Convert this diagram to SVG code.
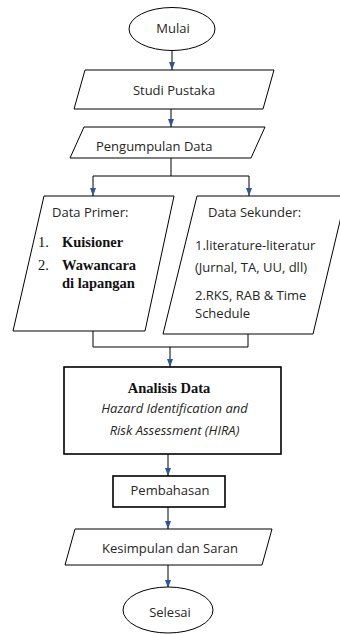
<svg xmlns="http://www.w3.org/2000/svg" width="340" height="634" viewBox="0 0 340 634">
<defs>
<style>
.sh{fill:#fff;stroke:#000;stroke-width:1}
.thick{fill:#fff;stroke:#000;stroke-width:1.6}
.c{fill:none;stroke:#000;stroke-width:1}
.sans{font-family:"Open Sans","Noto Sans",sans-serif;font-size:13px;fill:#262626}
.ser{font-family:"Liberation Serif","Times New Roman",serif;font-size:14.5px;fill:#111}
.b{font-weight:bold}
.it{font-style:italic}
.m{text-anchor:middle}
</style>
<marker id="ah" markerWidth="6" markerHeight="8" refX="3" refY="8" orient="0" markerUnits="userSpaceOnUse">
<path d="M0,0 L6,0 L3,8 Z" fill="#2f5597"/>
</marker>
</defs>
<rect width="340" height="634" fill="#fff"/>
<g id="connectors">
<path class="c" d="M172,51 V70" marker-end="url(#ah)"/>
<path class="c" d="M171,109 V127" marker-end="url(#ah)"/>
<path class="c" d="M171,158 V176 M93,176 H249"/>
<path class="c" d="M93,176 V196" marker-end="url(#ah)"/>
<path class="c" d="M249,176 V196" marker-end="url(#ah)"/>
<path class="c" d="M93,331 V347 H248 V334"/>
<path class="c" d="M170,347 V367" marker-end="url(#ah)"/>
<path class="c" d="M168,454 V476" marker-end="url(#ah)"/>
<path class="c" d="M168,507 V529" marker-end="url(#ah)"/>
<path class="c" d="M168,565 V588" marker-end="url(#ah)"/>
</g>
<g id="mulai">
<ellipse class="sh" cx="172" cy="29" rx="43" ry="21.5"/>
<text class="sans m" x="173" y="33">Mulai</text>
</g>
<g id="studi-pustaka">
<polygon class="sh" points="85,70 274,70 263,109 74,109"/>
<text class="sans m" x="174" y="95">Studi Pustaka</text>
</g>
<g id="pengumpulan-data">
<polygon class="sh" points="84,127 265,127 251,158 70,158"/>
<text class="sans" x="96" y="151">Pengumpulan Data</text>
</g>
<g id="data-primer">
<polygon class="sh" points="44,196 174,196 145,331 13,331"/>
<text class="sans" x="52" y="217">Data Primer:</text>
<text class="ser" x="38" y="247">1.</text>
<text class="ser b" x="62" y="247">Kuisioner</text>
<text class="ser" x="38" y="270">2.</text>
<text class="ser b" x="62" y="270">Wawancara</text>
<text class="ser b" x="62" y="288">di lapangan</text>
</g>
<g id="data-sekunder">
<polygon class="sh" points="197,196 346,196 313,334 163,334"/>
<text class="sans" x="208" y="217">Data Sekunder:</text>
<text class="sans" x="195" y="250">1.literature-literatur</text>
<text class="sans" x="195" y="272">(Jurnal, TA, UU, dll)</text>
<text class="sans" x="195" y="300">2.RKS, RAB &amp; Time</text>
<text class="sans" x="195" y="318">Schedule</text>
</g>
<g id="analisis-data">
<rect class="thick" x="64" y="367" width="217" height="87"/>
<text class="ser b m" x="169" y="393">Analisis Data</text>
<text class="sans it m" x="174.5" y="413">Hazard Identification and</text>
<text class="sans it m" x="174.5" y="435">Risk Assessment (HIRA)</text>
</g>
<g id="pembahasan">
<rect class="thick" x="113" y="476" width="112" height="31"/>
<text class="sans m" x="170" y="495">Pembahasan</text>
</g>
<g id="kesimpulan">
<polygon class="sh" points="75,529 272,529 262,565 65,565"/>
<text class="sans m" x="170" y="553">Kesimpulan dan Saran</text>
</g>
<g id="selesai">
<ellipse class="sh" cx="168" cy="610" rx="45" ry="23"/>
<text class="sans m" x="170" y="617">Selesai</text>
</g>
</svg>
